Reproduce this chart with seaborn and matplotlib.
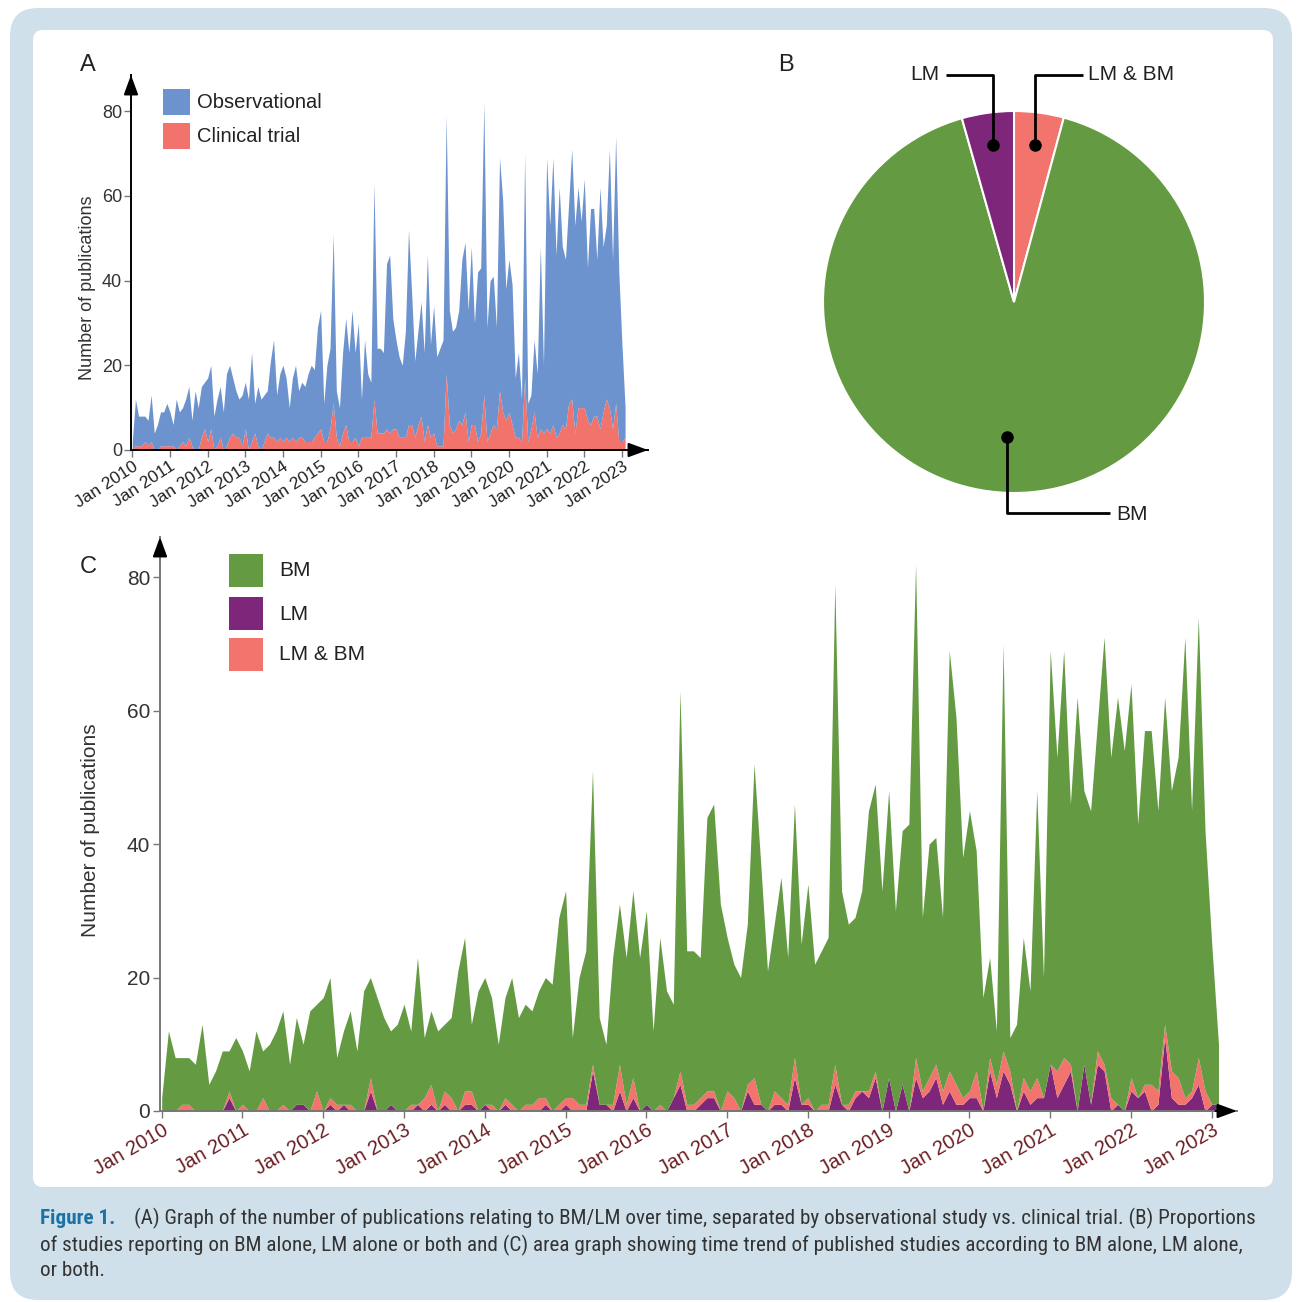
import numpy as np
import pandas as pd
import matplotlib
matplotlib.use("Agg")
import matplotlib.pyplot as plt
from matplotlib import font_manager
from matplotlib.patches import FancyBboxPatch, Rectangle
import seaborn as sns

W, H = 1297, 1302

# monthly counts, Jan 2010 .. Feb 2023
total_pubs = [
    2, 12, 8, 8, 8, 7, 13, 4, 6, 9, 9, 11,
    9, 6, 12, 9, 10, 12, 15, 7, 14, 10, 15, 16,
    17, 20, 8, 12, 15, 9, 18, 20, 17, 14, 12, 13,
    16, 12, 23, 11, 15, 12, 13, 14, 21, 26, 13, 18,
    20, 17, 10, 17, 20, 14, 16, 15, 18, 20, 19, 29,
    33, 11, 20, 24, 51, 14, 10, 23, 31, 23, 33, 23,
    30, 12, 26, 18, 16, 63, 24, 24, 23, 44, 46, 31,
    26, 22, 20, 28, 52, 37, 21, 28, 35, 23, 46, 25,
    34, 22, 24, 26, 79, 33, 28, 29, 33, 45, 49, 33,
    48, 30, 42, 43, 82, 29, 40, 41, 29, 69, 59, 38,
    45, 39, 17, 23, 12, 70, 11, 13, 26, 18, 48, 20,
    69, 53, 69, 46, 62, 48, 45, 58, 71, 53, 62, 54,
    64, 43, 57, 57, 45, 62, 48, 53, 71, 45, 74, 42,
    25, 10,
]
clinical_pubs = [
    0, 1, 1, 1, 2, 1, 2, 0, 0, 1, 1, 1,
    1, 1, 0, 1, 2, 1, 3, 1, 0, 0, 3, 5,
    2, 5, 0, 1, 3, 0, 1, 3, 4, 3, 3, 1,
    5, 0, 2, 4, 1, 0, 2, 4, 3, 3, 2, 3,
    2, 3, 2, 3, 2, 3, 3, 2, 2, 2, 3, 4,
    5, 2, 2, 5, 11, 3, 1, 4, 6, 2, 2, 3,
    1, 3, 3, 3, 3, 12, 4, 4, 4, 5, 4, 5,
    5, 3, 3, 3, 6, 6, 3, 6, 8, 2, 6, 3,
    4, 1, 1, 1, 18, 6, 4, 5, 7, 6, 9, 2,
    6, 6, 2, 4, 13, 2, 4, 6, 5, 14, 9, 7,
    9, 6, 3, 3, 2, 17, 2, 5, 9, 3, 5, 4,
    5, 4, 6, 3, 4, 6, 5, 11, 12, 4, 10, 10,
    10, 7, 6, 8, 8, 5, 9, 12, 10, 5, 11, 2,
    2, 3,
]
lm_pubs = [
    0, 0, 0, 0, 0, 0, 0, 0, 0, 0, 2, 0,
    0, 0, 0, 0, 0, 0, 0, 0, 1, 1, 0, 0,
    0, 1, 0, 1, 0, 0, 0, 3, 0, 0, 1, 0,
    0, 0, 1, 0, 1, 0, 1, 0, 0, 1, 1, 0,
    1, 0, 0, 1, 0, 0, 0, 0, 0, 1, 0, 0,
    1, 0, 0, 0, 6, 1, 1, 0, 3, 0, 2, 0,
    1, 0, 0, 0, 2, 4, 0, 0, 1, 2, 2, 0,
    0, 0, 0, 3, 1, 1, 0, 1, 1, 0, 5, 1,
    1, 0, 0, 0, 4, 1, 0, 2, 3, 2, 5, 0,
    5, 0, 4, 0, 5, 2, 3, 5, 1, 3, 1, 1,
    2, 2, 0, 6, 2, 6, 4, 0, 3, 1, 2, 2,
    7, 2, 4, 6, 0, 7, 1, 7, 6, 0, 1, 0,
    3, 2, 3, 0, 1, 11, 2, 1, 1, 2, 4, 0,
    1, 1,
]
lm_bm_pubs = [
    0, 0, 0, 1, 1, 0, 0, 0, 0, 0, 1, 0,
    1, 0, 0, 2, 0, 0, 1, 0, 0, 0, 0, 3,
    0, 1, 1, 0, 1, 0, 0, 2, 0, 0, 0, 0,
    0, 1, 0, 2, 3, 0, 2, 2, 0, 2, 2, 0,
    0, 1, 0, 1, 1, 0, 1, 1, 2, 1, 0, 1,
    1, 2, 1, 1, 1, 0, 0, 1, 4, 1, 3, 0,
    0, 0, 1, 0, 0, 2, 1, 1, 1, 1, 1, 0,
    3, 2, 0, 1, 4, 0, 0, 2, 1, 1, 3, 0,
    1, 0, 1, 1, 3, 0, 1, 1, 0, 1, 1, 0,
    0, 0, 0, 0, 3, 1, 2, 2, 2, 3, 3, 1,
    1, 4, 0, 2, 2, 3, 2, 0, 2, 2, 3, 0,
    0, 4, 4, 1, 0, 0, 0, 2, 1, 2, 0, 0,
    2, 0, 1, 4, 2, 2, 4, 4, 1, 1, 4, 3,
    0, 0,
]
tick_labels = [f"Jan {y}" for y in range(2010, 2024)]

# pie shares in percent (clockwise from 12 o'clock)
pie_labels = ["LM & BM", "BM", "LM"]
pie_shares = [4.2, 91.4, 4.4]

BLUE = "#6c93cd"
RED = "#f2736c"
GREEN = "#649b42"
PURPLE = "#7d267a"
SALMON = "#f2746c"
FRAME = "#cfe0ea"
MAROON = "#6b1f24"

df = pd.DataFrame({
    "month": pd.date_range("2010-01-01", periods=len(total_pubs), freq="MS"),
    "total": total_pubs,
    "clinical": clinical_pubs,
    "lm": lm_pubs,
    "lm_bm": lm_bm_pubs,
})
df["idx"] = np.arange(len(df))
df["observational"] = df["total"] - df["clinical"]
df["bm"] = df["total"] - df["lm"] - df["lm_bm"]
tick_idx = df.loc[df["month"].dt.month == 1, "idx"].tolist()

sns.set_theme(style="white")
plt.rcParams["font.family"] = ["Liberation Sans", "DejaVu Sans"]

fig = plt.figure(figsize=(W / 100, H / 100), dpi=100)


def px_axes(left, top, right, bottom, **kw):
    return fig.add_axes([left / W, 1 - bottom / H, (right - left) / W, (bottom - top) / H], **kw)


# background frame
bg = px_axes(0, 0, W, H, zorder=-5)
bg.set_xlim(0, W)
bg.set_ylim(H, 0)
bg.axis("off")
bg.add_patch(FancyBboxPatch((10, 8), 1282, 1292, boxstyle="round,pad=0,rounding_size=28",
                            facecolor=FRAME, edgecolor="none"))
bg.add_patch(FancyBboxPatch((33, 30), 1240, 1157, boxstyle="round,pad=0,rounding_size=10",
                            facecolor="white", edgecolor="none"))


def arrow_axes(ax, line_color):
    for side in ["top", "right"]:
        ax.spines[side].set_visible(False)
    for side in ["left", "bottom"]:
        ax.spines[side].set_color(line_color)
        ax.spines[side].set_linewidth(1.4)
    head = dict(arrowstyle="-|>,head_length=0.6,head_width=0.22", mutation_scale=20,
                color="black", lw=1.4, shrinkA=0, shrinkB=0)
    ax.annotate("", xy=(0, 1), xytext=(0, 0.97), xycoords="axes fraction", arrowprops=head)
    ax.annotate("", xy=(1, 0), xytext=(0.98, 0), xycoords="axes fraction", arrowprops=head)


# panel A
axA = px_axes(131, 75, 648, 450)
axA.set_facecolor("none")
axA.stackplot(df["idx"], df["clinical"], df["observational"], colors=[RED, BLUE], linewidth=0)
axA.set_xlim(-0.41, 164.3)
axA.set_ylim(0, 88.5)
axA.set_yticks([0, 20, 40, 60, 80])
axA.set_xticks(tick_idx)
axA.set_xticklabels(tick_labels)
axA.tick_params(axis="both", direction="out", length=5, width=1, color="#777",
                bottom=True, left=True, pad=1.5)
axA.tick_params(axis="x", labelsize=12.5, labelcolor="#222")
axA.tick_params(axis="y", labelsize=13, labelcolor="#333")
plt.setp(axA.get_xticklabels(), rotation=33, ha="right", rotation_mode="anchor")
arrow_axes(axA, "black")

# panel C
axC = px_axes(160, 537, 1237, 1111)
axC.set_facecolor("none")
axC.stackplot(df["idx"], df["lm"], df["lm_bm"], df["bm"], colors=[PURPLE, SALMON, GREEN], linewidth=0)
axC.set_xlim(-0.25, 159.75)
axC.set_ylim(0, 86)
axC.set_yticks([0, 20, 40, 60, 80])
axC.set_xticks(tick_idx)
axC.set_xticklabels(tick_labels)
axC.tick_params(axis="both", direction="out", length=5, width=1, color="#777",
                bottom=True, left=True, pad=2)
axC.tick_params(axis="x", labelsize=14.5, labelcolor=MAROON)
axC.tick_params(axis="y", labelsize=15, labelcolor="#333")
plt.setp(axC.get_xticklabels(), rotation=30, ha="right", rotation_mode="anchor")
arrow_axes(axC, "#777")

# panel B
axB = px_axes(823, 111, 1205, 493)
axB.pie(pie_shares, colors=[SALMON, GREEN, PURPLE], startangle=90, counterclock=False,
        wedgeprops=dict(edgecolor="white", linewidth=1.5))
axB.set_xlim(-1, 1)
axB.set_ylim(-1, 1)
axB.set_aspect("equal")

# text overlay
top = px_axes(0, 0, W, H, zorder=10)
top.set_facecolor("none")
top.set_xlim(0, W)
top.set_ylim(H, 0)
top.axis("off")

for s, x, y in [("A", 80, 65), ("B", 778, 65), ("C", 80, 567)]:
    top.text(x, y, s, fontsize=17, color="#222", ha="left", va="center")

top.text(88, 288, "Number of publications", rotation=90, fontsize=13, color="#333",
         ha="center", va="center")
top.text(90, 830, "Number of publications", rotation=90, fontsize=15, color="#333",
         ha="center", va="center")

# legend A
for (lab, col, y0) in [("Observational", BLUE, 89), ("Clinical trial", RED, 123)]:
    top.add_patch(Rectangle((163, y0), 27, 26, facecolor=col, edgecolor="none"))
    top.text(197, y0 + 14, lab, fontsize=14.5, color="#222", ha="left", va="center")

# legend C
for (lab, col, y0) in [("BM", GREEN, 554), ("LM", PURPLE, 597), ("LM & BM", SALMON, 638)]:
    top.add_patch(Rectangle((229, y0), 34, 33, facecolor=col, edgecolor="none"))
    top.text(279, y0 + 17, lab, fontsize=15, color="#222", ha="left", va="center")

# pie callouts
callouts = [
    ("LM", [946, 993, 993], [75, 75, 145], (939, 75), "right"),
    ("LM & BM", [1083, 1035, 1035], [75, 75, 145], (1088, 75), "left"),
    ("BM", [1007, 1007, 1110], [437, 513, 513], (1116, 514), "left"),
]
for lab, xs, ys, (tx, ty), ha in callouts:
    top.plot(xs, ys, color="black", lw=2, solid_capstyle="butt")
    dx, dy = (xs[-1], ys[-1]) if lab != "BM" else (xs[0], ys[0])
    top.plot([dx], [dy], "o", color="black", markersize=8)
    top.text(tx, ty, lab, fontsize=15, color="#222", ha=ha, va="center")

# caption
names = {f.name for f in font_manager.fontManager.ttflist}
cap_font = next((n for n in ["Liberation Sans Narrow", "Roboto Condensed", "Roboto", "DejaVu Sans"]
                 if n in names), "DejaVu Sans")
caption = [
    "(A) Graph of the number of publications relating to BM/LM over time, separated by observational study vs. clinical trial. (B) Proportions",
    "of studies reporting on BM alone, LM alone or both and (C) area graph showing time trend of published studies according to BM alone, LM alone,",
    "or both.",
]
fig.canvas.draw()
renderer = fig.canvas.get_renderer()
line2 = top.text(40, 1245, caption[1], fontsize=13, family=cap_font, color="#333", va="center")
line1 = top.text(134, 1218, caption[0], fontsize=13, family=cap_font, color="#333", va="center")
size = min(13 * 1218 / line2.get_window_extent(renderer).width,
           13 * 1120 / line1.get_window_extent(renderer).width)
line1.set_fontsize(size)
line2.set_fontsize(size)
top.text(40, 1218, "Figure 1.", fontsize=size, family=cap_font, weight="bold", color="#1b72a5", va="center")
top.text(40, 1271, caption[2], fontsize=size, family=cap_font, color="#333", va="center")

fig.savefig("out.png", dpi=100)
